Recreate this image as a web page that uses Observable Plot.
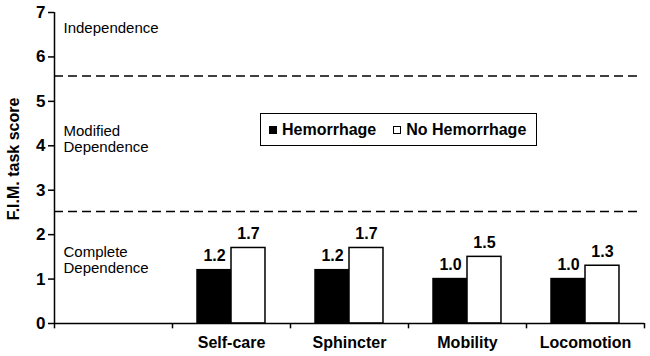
<!DOCTYPE html>
<html><head><meta charset="utf-8">
<script src="https://cdn.jsdelivr.net/npm/d3@7"></script>
<script src="https://cdn.jsdelivr.net/npm/@observablehq/plot@0.6"></script>
<style>
body{margin:0;background:#fff;font-family:"Liberation Sans",Arial,sans-serif;}
#wrap{position:relative;width:650px;height:356px;}
.legend{position:absolute;left:260px;top:113px;width:277px;height:33px;box-sizing:border-box;border:1.5px solid #000;display:flex;align-items:center;font-weight:bold;font-size:16px;color:#000;padding-left:8px;}
.sw{display:inline-block;width:8px;height:8px;box-sizing:border-box;border:1.2px solid #000;margin-right:5px;}
.item{display:flex;align-items:center;}
</style>
</head><body>
<div id="wrap"></div>
<script>
const categories = [" ", "Self-care", "Sphincter", "Mobility", "Locomotion"];
const barCategories = ["Self-care", "Sphincter", "Mobility", "Locomotion"];
const seriesNames = ["Hemorrhage", "No Hemorrhage"];
const hemorrhage = [1.2, 1.2, 1.0, 1.0];
const noHemorrhage = [1.7, 1.7, 1.5, 1.3];
const yTicks = [0, 1, 2, 3, 4, 5, 6, 7];
const thresholds = [5.57, 2.52];
const zoneLabels = ["Independence", "Modified\nDependence", "Complete\nDependence"];
const zoneY = [6.65, 4.16, 1.44];
const yLabel = "F.I.M. task score";

const W = 650, H = 356, ml = 54, mr = 6, mt = 12, mb = 33;
const bw = (W - ml - mr) / categories.length;

const hem = barCategories.map((c, i) => ({cat: c, v: hemorrhage[i]}));
const noh = barCategories.map((c, i) => ({cat: c, v: noHemorrhage[i]}));
const zones = zoneLabels.map((t, i) => ({t, y: zoneY[i]}));
const fmt = d3.format(".1f");
const outer = bw * 0.212, inner = bw * 0.5;

const chart = Plot.plot({
  width: W, height: H,
  marginLeft: ml, marginRight: mr, marginTop: mt, marginBottom: mb,
  style: {fontFamily: '"Liberation Sans", Arial, sans-serif', background: "#fff", color: "#000"},
  x: {domain: categories, padding: 0},
  y: {domain: [0, 7]},
  marks: [
    Plot.axisY({ticks: yTicks, tickFormat: d3.format("d"), tickSize: 6, tickPadding: 3, fontSize: 17, fontWeight: "bold", label: null, strokeWidth: 1.5}),
    Plot.axisX({tickSize: 0, tickPadding: 13, fontSize: 16, fontWeight: "bold", label: null, tickFormat: d => d.trim()}),
    Plot.barY(hem, {x: "cat", y: "v", fill: "#000", stroke: "#000", strokeWidth: 1.5, insetLeft: outer, insetRight: bw - inner}),
    Plot.barY(noh, {x: "cat", y: "v", fill: "#fff", stroke: "#000", strokeWidth: 1.5, insetLeft: inner, insetRight: outer}),
    Plot.text(hem, {x: "cat", y: "v", text: d => fmt(d.v), dx: -(inner - outer) / 2, dy: -14, fontSize: 16, fontWeight: "bold"}),
    Plot.text(noh, {x: "cat", y: "v", text: d => fmt(d.v), dx: (inner - outer) / 2, dy: -14, fontSize: 16, fontWeight: "bold"}),
    Plot.ruleY(thresholds, {stroke: "#000", strokeWidth: 1.5, strokeDasharray: "9,5", insetRight: 7}),
    Plot.text(zones, {y: "y", text: "t", frameAnchor: "left", dx: 9, textAnchor: "start", fontSize: 15, lineHeight: 1.07}),
    Plot.ruleY([0], {stroke: "#000", strokeWidth: 1.5}),
    Plot.ruleX([categories[0]], {x: d => d, dx: -bw / 2, y1: 0, y2: 7, stroke: "#000", strokeWidth: 1.5}),
    Plot.ruleX(categories, {x: d => d, dx: -bw / 2, y1: 0, y2: -0.12, stroke: "#000", strokeWidth: 1.5}),
    Plot.ruleX([categories[categories.length - 1]], {x: d => d, dx: bw / 2, y1: 0, y2: -0.12, stroke: "#000", strokeWidth: 1.5}),
    Plot.text([yLabel], {text: d => d, frameAnchor: "left", textAnchor: "middle", rotate: -90, dx: -41, dy: -9, fontSize: 16, fontWeight: "bold"})
  ]
});
const wrap = document.getElementById("wrap");
wrap.appendChild(chart);
const lg = document.createElement("div");
lg.className = "legend";
lg.innerHTML = `<span class="item"><span class="sw" style="background:#000"></span>${seriesNames[0]}</span>` +
  `<span class="item" style="margin-left:17px"><span class="sw" style="background:#fff"></span>${seriesNames[1]}</span>`;
wrap.appendChild(lg);
</script>
</body></html>
